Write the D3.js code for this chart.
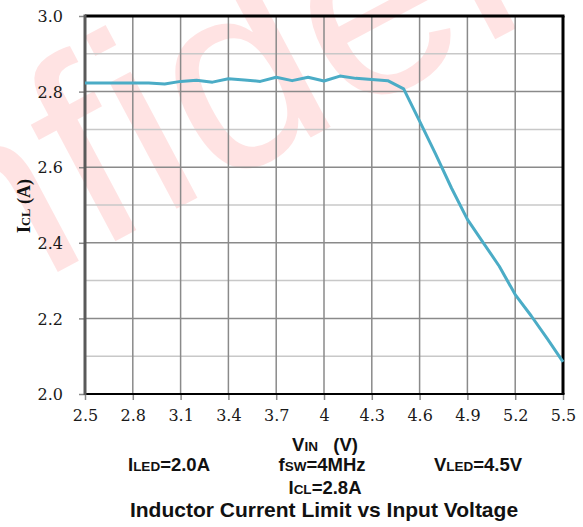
<!DOCTYPE html>
<html>
<head>
<meta charset="utf-8">
<script src="https://cdn.jsdelivr.net/npm/d3@7/dist/d3.min.js"></script>
<style>
  html, body { margin: 0; padding: 0; background: #fff; }
  svg { display: block; }
</style>
</head>
<body>
<svg id="chart" width="583" height="527"></svg>
<script>
// ---- data ----
const vin = [2.5, 2.6, 2.7, 2.8, 2.9, 3.0, 3.1, 3.2, 3.3, 3.4, 3.5, 3.6, 3.7, 3.8, 3.9, 4.0,
             4.1, 4.2, 4.3, 4.4, 4.5, 4.6, 4.7, 4.8, 4.9, 5.0, 5.1, 5.2, 5.3, 5.4, 5.5];
const icl = [2.823, 2.823, 2.823, 2.823, 2.823, 2.820, 2.827, 2.830, 2.825, 2.834, 2.831, 2.827,
             2.838, 2.829, 2.838, 2.828, 2.841, 2.835, 2.832, 2.829, 2.807, 2.722, 2.635, 2.545,
             2.462, 2.400, 2.338, 2.263, 2.207, 2.147, 2.085];
const xTicks = [2.5, 2.8, 3.1, 3.4, 3.7, 4.0, 4.3, 4.6, 4.9, 5.2, 5.5];
const xTickLabels = ["2.5", "2.8", "3.1", "3.4", "3.7", "4", "4.3", "4.6", "4.9", "5.2", "5.5"];
const yMajorTicks = [2.0, 2.2, 2.4, 2.6, 2.8, 3.0];
const yTickLabels = ["2.0", "2.2", "2.4", "2.6", "2.8", "3.0"];
const yMinorTicks = [2.1, 2.3, 2.5, 2.7, 2.9];

// ---- layout ----
const L = 85, R = 563, T = 16, B = 394;
const svg = d3.select("#chart");
const x = d3.scaleLinear().domain([2.5, 5.5]).range([L, R]);
const y = d3.scaleLinear().domain([2.0, 3.0]).range([B, T]);

const serif = "'Liberation Serif', 'Times New Roman', serif";
const tickFont = "'DejaVu Serif', serif";
const sans = "'Liberation Sans', Arial, sans-serif";

// watermark
svg.append("text")
  .attr("transform", "translate(-343,485) rotate(-28)")
  .style("font-family", sans)
  .style("font-size", "270px")
  .attr("fill", "#ff0000")
  .attr("fill-opacity", 0.11)
  .text("Confidential");

// minor horizontal grid
svg.append("g").selectAll("line").data(yMinorTicks).join("line")
  .attr("x1", L).attr("x2", R)
  .attr("y1", d => y(d)).attr("y2", d => y(d))
  .attr("stroke", "#c8c8c8").attr("stroke-width", 1.5);

// major horizontal grid
svg.append("g").selectAll("line").data(yMajorTicks.filter(d => d > 2 && d < 3)).join("line")
  .attr("x1", L).attr("x2", R)
  .attr("y1", d => y(d)).attr("y2", d => y(d))
  .attr("stroke", "#8a8a8a").attr("stroke-width", 1.5);

// vertical grid
svg.append("g").selectAll("line").data(xTicks.slice(1, -1)).join("line")
  .attr("x1", d => x(d)).attr("x2", d => x(d))
  .attr("y1", T).attr("y2", B)
  .attr("stroke", "#8a8a8a").attr("stroke-width", 1.5);

// bottom axis via d3
const xAxis = d3.axisBottom(x).tickValues(xTicks)
  .tickFormat((d, i) => xTickLabels[i]).tickSize(6).tickPadding(9);
const gx = svg.append("g").attr("transform", `translate(0,${B})`).call(xAxis);
gx.attr("font-family", null).attr("font-size", null);
gx.select(".domain").remove();
gx.selectAll(".tick line").attr("stroke", "#8a8a8a").attr("stroke-width", 1.5);
gx.selectAll(".tick text").style("font-family", tickFont).style("font-size", "16px")
  .attr("fill", "#1a1a1a").attr("dy", "0.72em");

// left axis via d3
const yAxis = d3.axisLeft(y).tickValues(yMajorTicks)
  .tickFormat((d, i) => yTickLabels[i]).tickSize(6).tickPadding(16);
const gy = svg.append("g").attr("transform", `translate(${L},0)`).call(yAxis);
gy.attr("font-family", null).attr("font-size", null);
gy.select(".domain").remove();
gy.selectAll(".tick line").attr("stroke", "#8a8a8a").attr("stroke-width", 1.5);
gy.selectAll(".tick text").style("font-family", tickFont).style("font-size", "16px")
  .attr("fill", "#1a1a1a").attr("dy", "0.36em");

// frame
svg.append("line").attr("x1", L).attr("x2", R + 1.5).attr("y1", T).attr("y2", T)
  .attr("stroke", "#000").attr("stroke-width", 3);
svg.append("line").attr("x1", R).attr("x2", R).attr("y1", T).attr("y2", B)
  .attr("stroke", "#000").attr("stroke-width", 3);
svg.append("line").attr("x1", L).attr("x2", R + 1.5).attr("y1", B).attr("y2", B)
  .attr("stroke", "#000").attr("stroke-width", 2);
svg.append("line").attr("x1", L).attr("x2", L).attr("y1", T - 1.5).attr("y2", B + 1)
  .attr("stroke", "#5a5a5a").attr("stroke-width", 3);

// data line
const pts = vin.map((v, i) => [v, icl[i]]);
svg.append("path").datum(pts)
  .attr("fill", "none").attr("stroke", "#4bacc6").attr("stroke-width", 3)
  .attr("stroke-linejoin", "round")
  .attr("d", d3.line().x(d => x(d[0])).y(d => y(d[1])));

// y axis title
const yt = svg.append("text")
  .attr("transform", "translate(30,206) rotate(-90)")
  .attr("text-anchor", "middle")
  .style("font-family", serif).style("font-weight", "bold").attr("fill", "#111");
yt.append("tspan").style("font-size", "18px").text("I");
yt.append("tspan").style("font-size", "12.5px").text("CL");
yt.append("tspan").style("font-size", "18px").text("\u00a0(A)");

// x axis title and notes
function subText(cx, cy, parts) {
  const t = svg.append("text").attr("x", cx).attr("y", cy)
    .attr("text-anchor", "middle")
    .style("font-family", sans).style("font-weight", "bold").attr("fill", "#111");
  parts.forEach(p => t.append("tspan").style("font-size", p[1] + "px").text(p[0]));
  return t;
}
subText(325, 451, [["V", 18.5], ["IN", 13.5], ["\u00a0\u00a0\u00a0(V)", 18.5]]);
subText(169, 471, [["I", 18.5], ["LED", 13.5], ["=2.0A", 18.5]]);
subText(322, 471, [["f", 18.5], ["SW", 13.5], ["=4MHz", 18.5]]);
subText(478, 471, [["V", 18.5], ["LED", 13.5], ["=4.5V", 18.5]]);
subText(325, 494, [["I", 18.5], ["CL", 13.5], ["=2.8A", 18.5]]);
svg.append("text").attr("x", 324).attr("y", 517).attr("text-anchor", "middle")
  .style("font-family", sans).style("font-weight", "bold").style("font-size", "21px")
  .attr("fill", "#111").text("Inductor Current Limit vs Input Voltage");
</script>
</body>
</html>
